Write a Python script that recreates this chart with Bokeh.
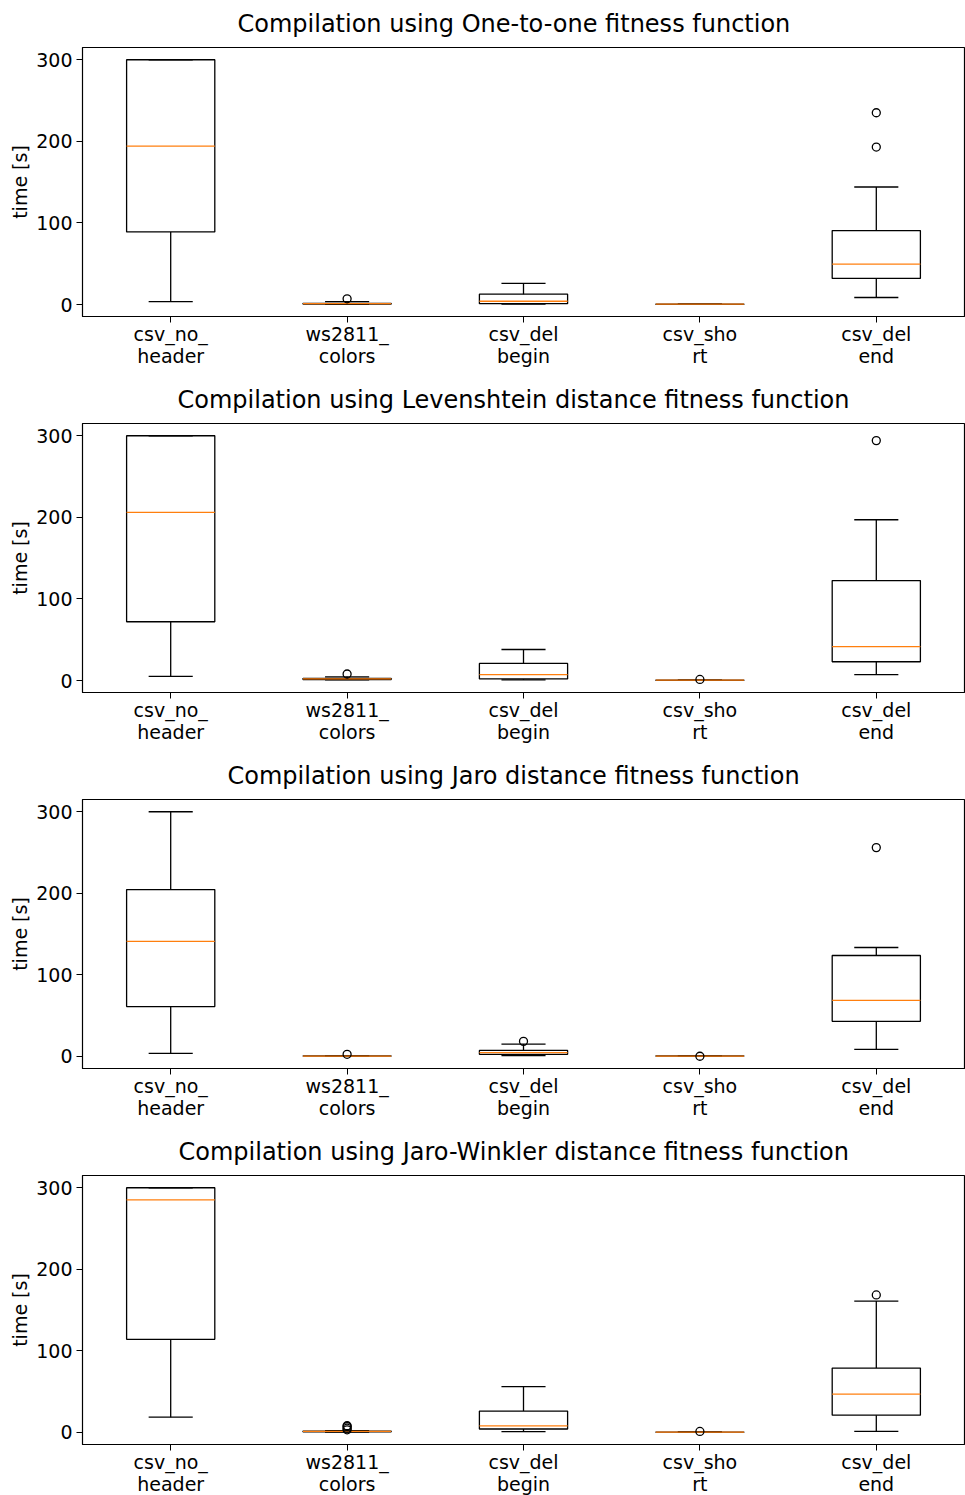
from bokeh.plotting import figure
from bokeh.layouts import column
from bokeh.models import ColumnDataSource, FixedTicker, Range1d
from bokeh.embed import file_html
from bokeh.resources import INLINE

categories = ["csv_no_header", "ws2811_colors", "csv_del_begin", "csv_short", "csv_del_end"]
tick_labels = ["csv_no_\nheader", "ws2811_\ncolors", "csv_del\nbegin", "csv_sho\nrt", "csv_del\nend"]
titles = [
    "Compilation using One-to-one fitness function",
    "Compilation using Levenshtein distance fitness function",
    "Compilation using Jaro distance fitness function",
    "Compilation using Jaro-Winkler distance fitness function",
]
y_ticks = [0, 100, 200, 300]

# One-to-one
oto_whislo = [3.5, 0.3, 0.5, 0.3, 8.6]
oto_q1 = [89, 0.6, 1.0, 0.35, 32]
oto_med = [194, 1.0, 4.0, 0.4, 49.6]
oto_q3 = [300, 1.5, 12.7, 0.5, 90.6]
oto_whishi = [300, 3.5, 26, 0.6, 144]
oto_fliers = [[], [7], [], [], [235, 193]]

# Levenshtein
lev_whislo = [5, 0.8, 0.8, 0.3, 7.3]
lev_q1 = [72, 1.2, 2, 0.35, 23]
lev_med = [206, 2, 7.3, 0.4, 41.6]
lev_q3 = [300, 2.5, 21, 0.5, 122.5]
lev_whishi = [300, 4.5, 38, 0.6, 197]
lev_fliers = [[], [8], [], [1.3], [294]]

# Jaro
jaro_whislo = [3.7, 0.3, 0.8, 0.3, 8.6]
jaro_q1 = [61, 0.35, 2.5, 0.35, 43]
jaro_med = [141, 0.4, 4.5, 0.4, 68.6]
jaro_q3 = [204.5, 0.5, 7.3, 0.5, 123.7]
jaro_whishi = [300, 0.6, 15, 0.6, 133.5]
jaro_fliers = [[], [2.5], [18.4], [0.1], [256]]

# Jaro-Winkler
jw_whislo = [18.5, 0.3, 0.8, 0.0, 1.2]
jw_q1 = [114, 0.5, 4, 0.1, 21]
jw_med = [285, 1.0, 7.8, 0.2, 46.7]
jw_q3 = [300, 1.5, 26, 0.3, 78.7]
jw_whishi = [300, 2.0, 56, 0.4, 161]
jw_fliers = [[], [3, 5, 7, 8], [], [1], [168.5]]

series = [
    (oto_whislo, oto_q1, oto_med, oto_q3, oto_whishi, oto_fliers),
    (lev_whislo, lev_q1, lev_med, lev_q3, lev_whishi, lev_fliers),
    (jaro_whislo, jaro_q1, jaro_med, jaro_q3, jaro_whishi, jaro_fliers),
    (jw_whislo, jw_q1, jw_med, jw_q3, jw_whishi, jw_fliers),
]

FONT = "DejaVu Sans"
FW, FH, LEFT = 882, 269, 82
# left-offset of each title inside its panel (titles sit ~11px left of frame centre)
TITLE_OFFSETS = [155, 95, 145, 96]

figs = []
for i, (title, (wlo, q1, med, q3, whi, fl)) in enumerate(zip(titles, series)):
    xs = list(range(1, len(categories) + 1))
    allv = wlo + whi + [v for f in fl for v in f]
    lo, hi = min(allv), max(allv)
    pad = (hi - lo) * 0.05
    y0, y1 = lo - pad, hi + pad
    p = figure(frame_width=FW, frame_height=FH,
               x_range=Range1d(0.5, 5.5), y_range=Range1d(y0, y1),
               output_backend="svg", toolbar_location=None,
               min_border_left=LEFT, min_border_right=1,
               min_border_top=47, min_border_bottom=60)
    p.title.text = title
    p.title.align = "left"
    p.title.vertical_align = "top"
    p.title.offset = TITLE_OFFSETS[i]
    p.title.text_font = FONT
    p.title.text_font_size = "24px"
    p.title.text_font_style = "normal"
    p.title.text_color = "black"
    p.title.standoff = 16
    p.grid.visible = False
    p.outline_line_color = "black"
    p.outline_line_width = 1.2

    src = ColumnDataSource(dict(
        x=xs, q1=q1, q3=q3, med=med, wlo=wlo, whi=whi,
        bl=[x - 0.25 for x in xs], br=[x + 0.25 for x in xs],
        cl=[x - 0.125 for x in xs], cr=[x + 0.125 for x in xs],
    ))
    p.vbar(x="x", width=0.5, bottom="q1", top="q3", source=src,
           fill_alpha=0, line_color="black", line_width=1.3)
    p.segment(x0="x", y0="q1", x1="x", y1="wlo", source=src, line_color="black", line_width=1.3)
    p.segment(x0="x", y0="q3", x1="x", y1="whi", source=src, line_color="black", line_width=1.3)
    p.segment(x0="cl", y0="wlo", x1="cr", y1="wlo", source=src, line_color="black", line_width=1.3)
    p.segment(x0="cl", y0="whi", x1="cr", y1="whi", source=src, line_color="black", line_width=1.3)
    p.segment(x0="bl", y0="med", x1="br", y1="med", source=src, line_color="#ff7f0e", line_width=1.3)

    fx = [x for x, f in zip(xs, fl) for _ in f]
    fy = [v for f in fl for v in f]
    p.scatter(fx, fy, marker="circle", size=8, fill_alpha=0, line_color="black", line_width=1.3)

    p.xaxis.ticker = FixedTicker(ticks=xs)
    p.xaxis.major_label_overrides = {x: lab for x, lab in zip(xs, tick_labels)}
    p.yaxis.ticker = FixedTicker(ticks=y_ticks)
    p.yaxis.axis_label = "time [s]"
    for ax in (p.xaxis[0], p.yaxis[0]):
        ax.major_label_text_font = FONT
        ax.major_label_text_font_size = "19px"
        ax.major_label_text_color = "black"
        ax.axis_label_text_font = FONT
        ax.axis_label_text_font_size = "19px"
        ax.axis_label_text_font_style = "normal"
        ax.axis_label_text_color = "black"
        ax.axis_line_color = "black"
        ax.major_tick_line_color = "black"
        ax.minor_tick_line_color = None
        ax.major_tick_in = 0
        ax.major_tick_out = 6
        ax.major_label_standoff = 4
    p.xaxis.major_label_standoff = 0
    p.xaxis.major_label_text_line_height = 1.0
    p.yaxis.axis_label_standoff = 2
    figs.append(p)

layout = column(*figs, spacing=0)
open("out.html", "w").write(file_html(layout, INLINE))
